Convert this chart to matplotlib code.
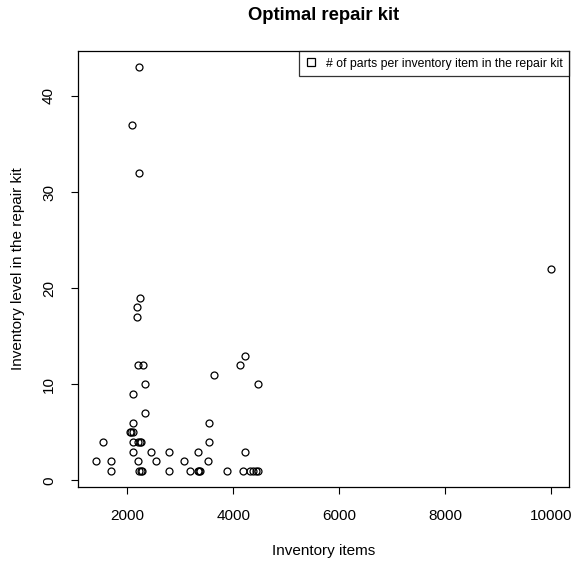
import matplotlib
matplotlib.use("Agg")
import matplotlib.pyplot as plt
from matplotlib.lines import Line2D

plt.rcParams['font.family'] = ['Liberation Sans', 'DejaVu Sans']

# Inventory items (x) and inventory level in repair kit (y)
inventory_items = [
    2220, 2090, 2220, 2235, 2185, 2185,
    2200, 2300, 4130, 4230, 3630, 4460, 2330, 2110, 2330,
    2110, 3540, 2040, 2070, 2100,
    1540, 2110, 2200, 2230, 2260, 3540,
    2110, 2440, 2780, 3330, 4230,
    1400, 1680, 2200, 2540, 3060, 3520,
    1680, 2220, 2260, 2280, 2780, 3190, 3330, 3360, 3380, 3880, 4190,
    4310, 4380, 4430, 4460,
    10000,
]
inventory_level = [
    43, 37, 32, 19, 18, 17,
    12, 12, 12, 13, 11, 10, 10, 9, 7,
    6, 6, 5, 5, 5,
    4, 4, 4, 4, 4, 4,
    3, 3, 3, 3, 3,
    2, 2, 2, 2, 2, 2,
    1, 1, 1, 1, 1, 1, 1, 1, 1, 1, 1,
    1, 1, 1, 1,
    22,
]

title = "Optimal repair kit"
xlabel = "Inventory items"
ylabel = "Inventory level in the repair kit"
legend_label = "# of parts per inventory item in the repair kit"
xticks = [2000, 4000, 6000, 8000, 10000]
yticks = [0, 10, 20, 30, 40]

W, H, DPI = 573, 563, 100
fig = plt.figure(figsize=(W / DPI, H / DPI), dpi=DPI)
ax = fig.add_axes([77.5 / W, 1 - 487 / H, (569 - 77.5) / W, (487 - 51) / H])

ax.plot(inventory_items, inventory_level, linestyle='none', marker='o',
        markersize=5, markerfacecolor='none', markeredgecolor='black',
        markeredgewidth=0.9)

xmin, xmax = min(inventory_items), max(inventory_items)
ymin, ymax = min(inventory_level), max(inventory_level)
dx, dy = (xmax - xmin) * 0.04, (ymax - ymin) * 0.04
ax.set_xlim(xmin - dx, xmax + dx)
ax.set_ylim(ymin - dy, ymax + dy)

ax.set_xticks(xticks)
ax.set_yticks(yticks)
ax.set_xticklabels([str(t) for t in xticks])
ax.set_yticklabels([str(t) for t in yticks], rotation=90, va='center')
ax.tick_params(axis='both', direction='out', length=5, width=0.8,
               labelsize=11, colors='black')
ax.tick_params(axis='x', pad=11)
ax.tick_params(axis='y', pad=10.5)
for s in ax.spines.values():
    s.set_linewidth(0.9)
    s.set_color('black')

ax.set_xlabel(xlabel, fontsize=11, labelpad=15)
ax.set_ylabel(ylabel, fontsize=11, labelpad=12)
fig.text(0.5 * (77.5 + 569) / W, 1 - 16 / H, title, ha='center', va='center',
         fontsize=13.3, fontweight='bold')

handle = Line2D([], [], linestyle='none', marker='s', markersize=5.5,
                markerfacecolor='none', markeredgecolor='black', markeredgewidth=0.9)
leg = ax.legend([handle], [legend_label], loc='upper right', fontsize=8.8,
                frameon=True, fancybox=False, borderaxespad=0,
                handlelength=0.9, handletextpad=0.7, borderpad=0.55)
leg.get_frame().set_edgecolor('black')
leg.get_frame().set_linewidth(0.9)

fig.savefig("out.png", dpi=DPI)
